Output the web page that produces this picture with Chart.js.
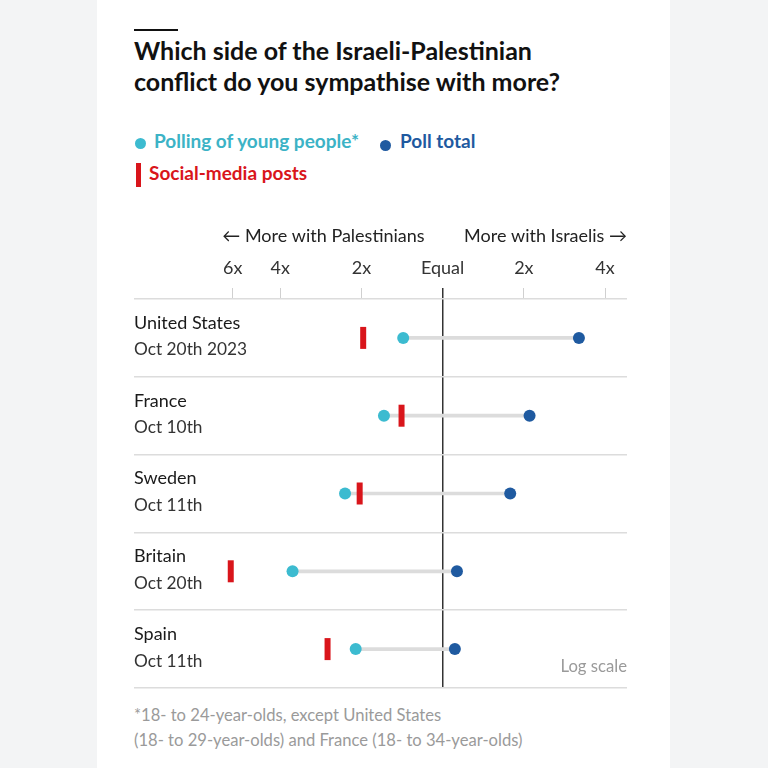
<!DOCTYPE html>
<html>
<head>
<meta charset="utf-8">
<script src="https://cdn.jsdelivr.net/npm/chart.js@4"></script>
<style>
  body { margin: 0; width: 768px; height: 768px; background: #f3f4f5; font-family: Lato, "Noto Sans", sans-serif; position: relative; overflow: hidden; }
  .card { position: absolute; left: 97px; top: 0; width: 573px; height: 768px; background: #fff; }
  .rule { position: absolute; left: 134px; top: 29px; width: 44px; height: 2px; background: #111; }
  .title { position: absolute; left: 134px; top: 35px; font-size: 25px; font-weight: 700; line-height: 31px; color: #111; }
  .leg { position: absolute; font-size: 19px; font-weight: 700; line-height: 22px; }
  .dot { position: absolute; width: 11px; height: 11px; border-radius: 50%; }
  .bar { position: absolute; width: 5px; height: 24px; background: #d9151b; }
  .note { position: absolute; left: 134px; top: 703px; font-size: 16.6px; line-height: 25px; color: #9a9a9a; }
  #wrap { position: absolute; left: 0; top: 0; width: 768px; height: 768px; }
</style>
</head>
<body>
<div class="card"></div>
<div class="rule"></div>
<div class="title">Which side of the Israeli-Palestinian<br>conflict do you sympathise with more?</div>
<div class="dot" style="left:135px;top:138px;background:#3cbbd0"></div>
<div class="leg" style="left:154px;top:130px;color:#3cb3c6">Polling of young people*</div>
<div class="dot" style="left:380px;top:140px;background:#1f5aa0"></div>
<div class="leg" style="left:400px;top:130px;color:#1f5aa0">Poll total</div>
<div class="bar" style="left:136px;top:163px"></div>
<div class="leg" style="left:149px;top:162px;color:#d9151b">Social-media posts</div>
<div class="note">*18- to 24-year-olds, except United States<br>(18- to 29-year-olds) and France (18- to 34-year-olds)</div>
<div id="wrap"><canvas id="chart"></canvas></div>
<script>
// signed multiples: negative = more with Palestinians, positive = more with Israelis
const countries = ['United States', 'France', 'Sweden', 'Britain', 'Spain'];
const dates = ['Oct 20th 2023', 'Oct 10th', 'Oct 11th', 'Oct 20th', 'Oct 11th'];
const young = [-1.4, -1.65, -2.3, -3.6, -2.1];
const total = [3.2, 2.1, 1.78, 1.13, 1.11];
const social = [-1.97, -1.42, -2.03, -6.1, -2.67];
const tickMultiples = [-6, -4, -2, 1, 2, 4];
const tickLabels = ['6x', '4x', '2x', 'Equal', '2x', '4x'];

const toLog = v => v >= 0 ? Math.log2(v) : -Math.log2(-v);

const font = 'Lato, "Noto Sans", sans-serif';

const rowLabels = {
  id: 'rowLabels',
  afterDraw(chart) {
    const { ctx, chartArea, scales } = chart;
    const x0 = scales.x.getPixelForValue(0);
    ctx.save();
    ctx.textBaseline = 'middle';
    ctx.font = '18px ' + font;
    ctx.fillStyle = '#222';
    ctx.textAlign = 'right';
    ctx.fillText('\u2190 More with Palestinians', x0 - 18, 236);
    ctx.fillText('More with Israelis \u2192', chartArea.right, 236);
    countries.forEach((c, i) => {
      const y = scales.y.getPixelForValue(i);
      ctx.textAlign = 'left';
      ctx.fillStyle = '#1a1a1a';
      ctx.font = '18px ' + font;
      ctx.fillText(c, chartArea.left, y - 15);
      ctx.fillStyle = '#333';
      ctx.font = '17.3px ' + font;
      ctx.fillText(dates[i], chartArea.left, y + 12);
    });
    ctx.textAlign = 'right';
    ctx.fillStyle = '#9a9a9a';
    ctx.font = '16.7px ' + font;
    ctx.fillText('Log scale', chartArea.right, 667);
    ctx.restore();
  }
};

new Chart(document.getElementById('chart'), {
  type: 'bar',
  data: {
    labels: countries,
    datasets: [
      {
        label: 'Range',
        data: countries.map((c, i) => ({ y: c, x: [toLog(young[i]), toLog(total[i])] })),
        backgroundColor: '#dcdcdc',
        barThickness: 3,
        order: 10
      },
      {
        type: 'line',
        label: 'Social-media posts',
        data: countries.map((c, i) => ({ y: c, x: toLog(social[i]) })),
        showLine: false,
        pointStyle: 'line',
        rotation: 90,
        pointRadius: 11,
        pointBorderWidth: 6,
        borderColor: '#d9151b',
        order: 3
      },
      {
        type: 'line',
        label: 'Polling of young people*',
        data: countries.map((c, i) => ({ y: c, x: toLog(young[i]) })),
        showLine: false,
        pointRadius: 6,
        pointBorderWidth: 0,
        backgroundColor: '#3cbbd0',
        order: 2
      },
      {
        type: 'line',
        label: 'Poll total',
        data: countries.map((c, i) => ({ y: c, x: toLog(total[i]) })),
        showLine: false,
        pointRadius: 6,
        pointBorderWidth: 0,
        backgroundColor: '#1f5aa0',
        order: 1
      }
    ]
  },
  options: {
    indexAxis: 'y',
    responsive: true,
    maintainAspectRatio: false,
    animation: false,
    layout: { padding: { left: 134, right: 141, top: 255, bottom: 80 } },
    plugins: { legend: { display: false }, tooltip: { enabled: false } },
    scales: {
      x: {
        type: 'linear',
        position: 'top',
        min: -3.8,
        max: 2.27,
        afterBuildTicks: scale => { scale.ticks = tickMultiples.map(v => ({ value: toLog(v) })); },
        afterFit: scale => { scale.height = 44; },
        ticks: {
          callback: (v, i) => tickLabels[i],
          color: '#333',
          font: { family: font, size: 18 },
          padding: 9,
          maxRotation: 0,
          autoSkip: false
        },
        grid: {
          color: ctx => ctx.tick && ctx.tick.value === 0 ? '#333' : 'rgba(0,0,0,0)',
          tickColor: ctx => ctx.tick && ctx.tick.value === 0 ? '#333' : '#d0d0d0',
          lineWidth: ctx => ctx.tick && ctx.tick.value === 0 ? 1.5 : 1,
          tickLength: 11
        },
        border: { display: false }
      },
      y: {
        type: 'category',
        offset: true,
        afterFit: scale => { scale.width = 0; },
        ticks: { display: false },
        grid: { offset: true, color: '#dcdcdc', drawTicks: false, lineWidth: 1.5 },
        border: { display: false }
      }
    }
  },
  plugins: [rowLabels]
});
</script>
</body>
</html>
